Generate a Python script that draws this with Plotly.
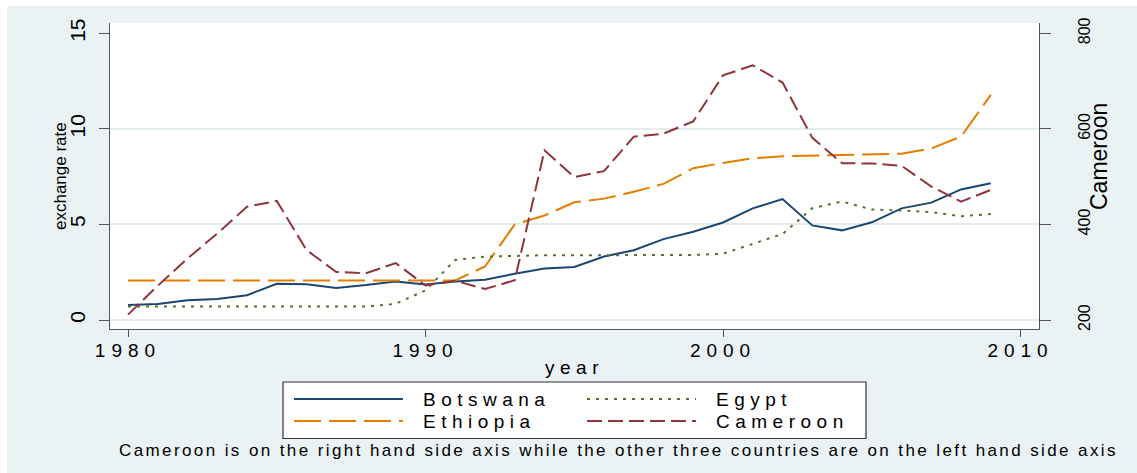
import plotly.graph_objects as go

# ---- data: official exchange rates, local currency per US$ ----
years = list(range(1980, 2010))
botswana = [0.78, 0.84, 1.03, 1.10, 1.30, 1.89, 1.87, 1.68, 1.83, 2.02,
            1.86, 2.02, 2.11, 2.42, 2.69, 2.77, 3.32, 3.65, 4.23, 4.62,
            5.10, 5.84, 6.33, 4.95, 4.69, 5.11, 5.84, 6.14, 6.83, 7.16]
ethiopia = [2.07, 2.07, 2.07, 2.07, 2.07, 2.07, 2.07, 2.07, 2.07, 2.07,
            2.07, 2.07, 2.80, 5.00, 5.47, 6.16, 6.35, 6.71, 7.12, 7.94,
            8.22, 8.46, 8.57, 8.60, 8.64, 8.67, 8.70, 8.97, 9.60, 11.78]
egypt = [0.70, 0.70, 0.70, 0.70, 0.70, 0.70, 0.70, 0.70, 0.70, 0.85,
         1.55, 3.14, 3.32, 3.35, 3.39, 3.39, 3.39, 3.39, 3.39, 3.40,
         3.47, 4.00, 4.50, 5.85, 6.20, 5.78, 5.73, 5.64, 5.43, 5.54]
cameroon = [211.3, 271.7, 328.6, 381.1, 437.0, 449.3, 346.3, 300.5, 297.8, 319.0,
            272.3, 282.1, 264.7, 283.2, 555.2, 499.1, 511.6, 583.7, 590.0, 615.7,
            712.0, 733.0, 697.0, 581.2, 528.3, 527.5, 522.9, 479.3, 447.8, 472.2]

year_ticks = [1980, 1990, 2000, 2010]
left_ticks = [0, 5, 10, 15]
right_ticks = [200, 400, 600, 800]
grid_vals = [0, 5, 10]

note = ("Cameroon is on the right hand side axis while the other "
        "three countries are on the left hand side axis")

# ---- styling (Stata s2color look) ----
FONT = "Liberation Sans, Arial, Helvetica, sans-serif"
BG = "#EAF2F3"
AXIS = "#555555"
GRID = "#E3ECEF"
styles = {
    "Botswana": dict(color="#1A476F", dash="solid"),
    "Ethiopia": dict(color="#E37E00", dash="27px,8px"),
    "Egypt": dict(color="#55752F", dash="3px,6px"),
    "Cameroon": dict(color="#90353B", dash="15px,6px"),
}

W, H = 1137, 473
ML, MR, MT, MB = 110, 98, 23, 144
PW, PH = W - ML - MR, H - MT - MB


def px_x(px):
    return (px - ML) / PW


def px_y(py):
    return (H - MB - py) / PH


def spaced(s, ls):
    return f'<span style="letter-spacing:{ls}px">{s}</span>'


y_range = [-0.471, 15.539]
y2_range = [200 + 40 * v for v in y_range]  # right axis aligned: 200 + 40*left
x_range = [1979.395, 2010.62]

fig = go.Figure()
for name, vals, ax in [("Botswana", botswana, "y"), ("Ethiopia", ethiopia, "y"),
                       ("Egypt", egypt, "y"), ("Cameroon", cameroon, "y2")]:
    st = styles[name]
    fig.add_trace(go.Scatter(x=years, y=vals, yaxis=ax, mode="lines", name=name,
                             line=dict(color=st["color"], dash=st["dash"], width=2),
                             showlegend=False, hoverinfo="x+y+name"))
# grid-only axis (no grid line at the top label)
fig.add_trace(go.Scatter(x=[], y=[], yaxis="y3", showlegend=False))

fig.update_layout(
    width=W, height=H,
    margin=dict(l=ML, r=MR, t=MT, b=MB),
    paper_bgcolor=BG, plot_bgcolor="white",
    font=dict(family=FONT, color="black"),
    xaxis=dict(range=x_range, tickvals=year_ticks,
               ticktext=[spaced(str(v), 6) for v in year_ticks],
               tickfont=dict(size=19), ticks="outside", ticklen=7, tickwidth=1.2,
               tickcolor=AXIS, showline=True, linecolor=AXIS, linewidth=1.2,
               showgrid=False, zeroline=False, automargin=False,
               ticklabelstandoff=-3,
               title=dict(text=spaced("year", 5.5), font=dict(size=19), standoff=0)),
    yaxis=dict(range=y_range, tickvals=left_ticks, tickangle=-90,
               tickfont=dict(size=21), ticks="outside", ticklen=10, tickwidth=1.2,
               tickcolor=AXIS, showline=True, linecolor=AXIS, linewidth=1.2,
               showgrid=False, zeroline=False, automargin=False,
               ticklabelstandoff=6),
    yaxis2=dict(range=y2_range, tickvals=right_ticks, tickangle=-90, overlaying="y",
                side="right", tickfont=dict(size=16), ticks="outside", ticklen=11,
                tickwidth=1.2, tickcolor=AXIS, showline=True, linecolor=AXIS,
                linewidth=1.2, showgrid=False, zeroline=False, automargin=False,
                ticklabelstandoff=20),
    yaxis3=dict(range=y_range, tickvals=grid_vals, overlaying="y", showgrid=True,
                gridcolor=GRID, gridwidth=1.5, showticklabels=False, ticks="",
                showline=False, zeroline=False, automargin=False),
)

shapes = [
    # thin white frame at the top and left of the graph region
    dict(type="rect", xref="paper", yref="paper", x0=px_x(-5), x1=px_x(W + 5),
         y0=px_y(6), y1=px_y(-5), fillcolor="white", line=dict(width=0), layer="below"),
    dict(type="rect", xref="paper", yref="paper", x0=px_x(-5), x1=px_x(7),
         y0=px_y(H + 5), y1=px_y(-5), fillcolor="white", line=dict(width=0), layer="below"),
    # legend box
    dict(type="rect", xref="paper", yref="paper", x0=px_x(283), x1=px_x(866),
         y0=px_y(438.5), y1=px_y(382), fillcolor="white",
         line=dict(color="#333333", width=1.2)),
]

# axis titles (vertical)
annotations = [
    dict(text="exchange rate", xref="paper", yref="paper", x=px_x(60), y=px_y(176),
         xanchor="center", yanchor="middle", textangle=-90, showarrow=False,
         font=dict(size=17)),
    dict(text="Cameroon", xref="paper", yref="paper", x=px_x(1099), y=px_y(157),
         xanchor="center", yanchor="middle", textangle=-90, showarrow=False,
         font=dict(size=23)),
]

# legend: two columns, two rows
legend_order = [["Botswana", "Egypt"], ["Ethiopia", "Cameroon"]]
col_px = [294, 587]
row_px = [399, 421]
key_len, key_gap = 109, 18
for r, row in enumerate(legend_order):
    for c, name in enumerate(row):
        st = styles[name]
        x0 = col_px[c]
        yy = px_y(row_px[r])
        shapes.append(dict(type="line", xref="paper", yref="paper",
                           x0=px_x(x0), x1=px_x(x0 + key_len), y0=yy, y1=yy,
                           line=dict(color=st["color"], dash=st["dash"], width=2)))
        annotations.append(dict(text=spaced(name, 5.5), xref="paper", yref="paper",
                                x=px_x(x0 + key_len + key_gap), y=yy,
                                xanchor="left", yanchor="middle", showarrow=False,
                                font=dict(size=19)))

annotations.append(dict(text=spaced(note, 2.4), xref="paper", yref="paper",
                        x=px_x(117), y=px_y(450), xanchor="left", yanchor="middle",
                        showarrow=False, font=dict(size=17)))

fig.update_layout(shapes=shapes, annotations=annotations)
fig.write_html("out.html")
